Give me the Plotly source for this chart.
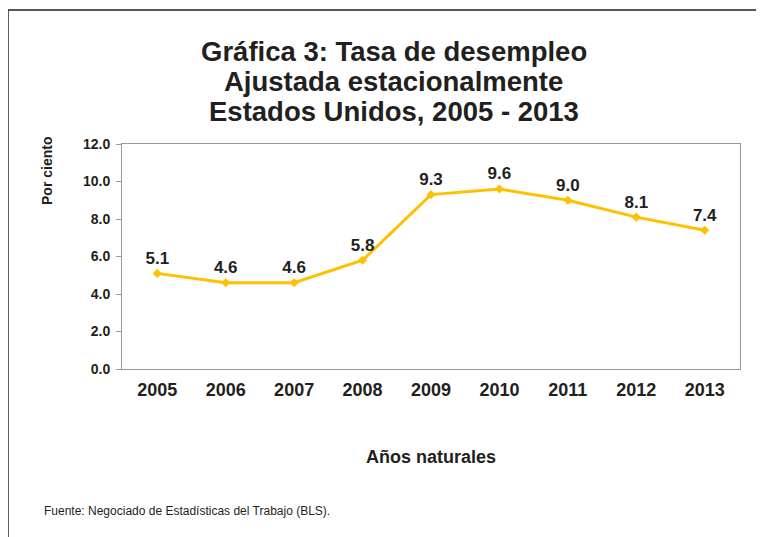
import plotly.graph_objects as go

years = ["2005", "2006", "2007", "2008", "2009", "2010", "2011", "2012", "2013"]
rate = [5.1, 4.6, 4.6, 5.8, 9.3, 9.6, 9.0, 8.1, 7.4]
rate_labels = ["5.1", "4.6", "4.6", "5.8", "9.3", "9.6", "9.0", "8.1", "7.4"]
y_ticks = [0, 2, 4, 6, 8, 10, 12]
title_lines = ["Gráfica 3: Tasa de desempleo", "Ajustada estacionalmente",
               "Estados Unidos, 2005 - 2013"]

FONT = "Liberation Sans, Arial, sans-serif"
DARK = "#231f20"

fig = go.Figure()
fig.add_trace(go.Scatter(
    x=years, y=rate, mode="lines+markers+text",
    text=rate_labels, textposition="top center",
    textfont=dict(family=FONT, size=17, color=DARK, weight="bold"),
    line=dict(color="#FFC000", width=3),
    marker=dict(symbol="diamond", size=7, color="#FFC000"),
    showlegend=False, cliponaxis=False,
))

# the page body adds an 8px offset, so margins are shifted to compensate
annotations = []
for i, line in enumerate(title_lines):
    annotations.append(dict(
        text="<b>" + line + "</b>", x=0.44, y=1.413 - i * 0.1333,
        xref="paper", yref="paper", xanchor="center", yanchor="middle",
        showarrow=False, font=dict(size=27.5, color=DARK)))

annotations += [
    dict(text="<b>Por ciento</b>", textangle=-90, x=-0.1214, y=0.88,
         xref="paper", yref="paper", xanchor="center", yanchor="middle",
         showarrow=False, font=dict(size=14, color=DARK)),
    dict(text="<b>Años naturales</b>", x=0.50, y=-0.391,
         xref="paper", yref="paper", xanchor="center", yanchor="middle",
         showarrow=False, font=dict(size=18, color=DARK)),
    dict(text="Fuente: Negociado de Estadísticas del Trabajo (BLS).",
         x=-0.1294, y=-0.631, xref="paper", yref="paper",
         xanchor="left", yanchor="middle",
         showarrow=False, font=dict(size=12, color=DARK)),
]

fig.update_layout(
    width=764, height=537,
    margin=dict(l=114, r=32, t=136, b=176),
    paper_bgcolor="white", plot_bgcolor="white",
    font=dict(family=FONT, color=DARK),
    xaxis=dict(
        type="category", showgrid=False, ticks="", ticklabelstandoff=4,
        showline=True, linecolor="#999999", linewidth=1, mirror=True,
        tickfont=dict(size=18, color=DARK, weight="bold"),
    ),
    yaxis=dict(
        range=[0, 12], tickvals=y_ticks, tickformat=".1f",
        showgrid=False, zeroline=False, ticklabelstandoff=3,
        ticks="outside", ticklen=5, tickcolor="#999999",
        showline=True, linecolor="#999999", linewidth=1, mirror=True,
        tickfont=dict(size=14, color=DARK, weight="bold"),
    ),
    annotations=annotations,
    shapes=[
        dict(type="rect", xref="paper", yref="paper",
             x0=-0.1845, x1=1.2, y0=-1.0, y1=1.5956,
             line=dict(color="#222222", width=1.5), layer="below"),
    ],
)

fig.write_html("out.html")
